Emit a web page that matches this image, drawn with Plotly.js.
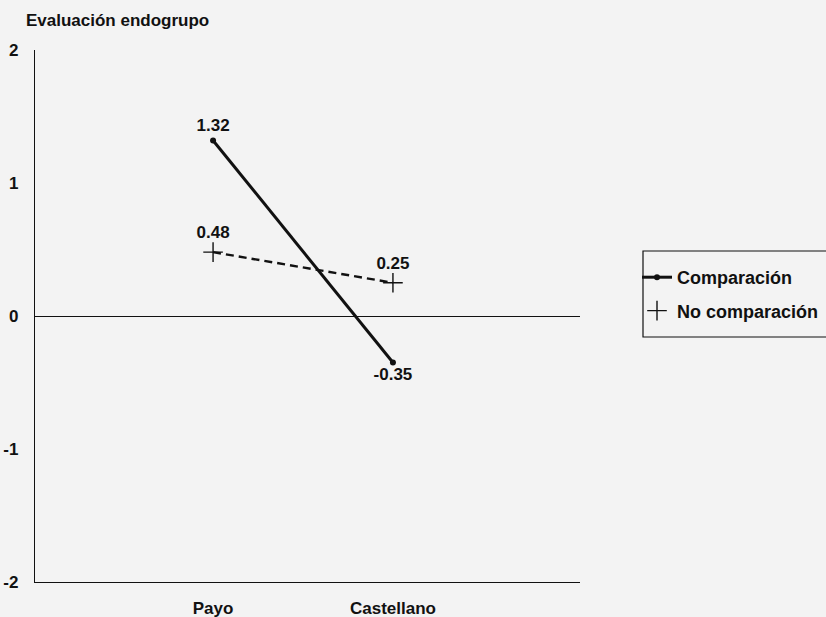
<!DOCTYPE html>
<html>
<head>
<meta charset="utf-8">
<script src="https://cdn.plot.ly/plotly-3.0.1.min.js"></script>
<style>html,body{margin:0;padding:0;background:#f3f3f3;}#chart{width:826px;height:617px;}</style>
</head>
<body>
<div id="chart"></div>
<script>
const categories = ["Payo", "Castellano"];
const comparacion = [1.32, -0.35];
const noComparacion = [0.48, 0.25];
const yTicks = [-2, -1, 0, 1, 2];
const yTickLabels = ["-2", "-1", "0", "1", "2"];

const FONT = "Liberation Sans, Arial, Helvetica, sans-serif";
const INK = "#111111";
const BG = "#f3f3f3";
const fmt = v => v.toFixed(2);

// plot area in pixels (used only to place the legend box)
const PL = 35, PR = 580, PT = 50, PB = 582;
const px = p => (p - PL) / (PR - PL);
const py = p => (PB - p) / (PB - PT);

const labelFont = {family: FONT, size: 17, color: INK, weight: "bold"};

const traces = [
  {
    x: categories, y: comparacion, name: "Comparación", legendgroup: "c",
    type: "scatter", mode: "lines+markers+text",
    line: {color: INK, width: 3},
    marker: {symbol: "circle", size: 6, color: INK},
    text: comparacion.map(fmt),
    textposition: ["top center", "bottom center"],
    textfont: labelFont,
    cliponaxis: false
  },
  {
    x: categories, y: noComparacion, name: "No comparación", legendgroup: "n",
    type: "scatter", mode: "lines", showlegend: false,
    line: {color: INK, width: 2.4, dash: "8px,5px"},
    cliponaxis: false
  },
  {
    x: categories, y: noComparacion, name: "No comparación", legendgroup: "n",
    type: "scatter", mode: "markers+text",
    marker: {symbol: "cross-thin", size: 14, color: INK, line: {color: INK, width: 1.4}},
    text: noComparacion.map(fmt),
    textposition: ["top center", "top center"],
    textfont: labelFont,
    cliponaxis: false
  }
];

const layout = {
  width: 826, height: 617,
  paper_bgcolor: BG, plot_bgcolor: BG,
  margin: {l: PL, r: 826 - PR, t: PT, b: 617 - PB, autoexpand: false},
  font: {family: FONT, color: INK, size: 17, weight: "bold"},
  title: {
    text: "Evaluación endogrupo",
    font: {family: FONT, size: 17, color: INK, weight: "bold"},
    xref: "container", yref: "container",
    x: 26 / 826, xanchor: "left",
    y: 1 - 20 / 617, yanchor: "middle"
  },
  xaxis: {
    type: "category", range: [-0.99, 2.04],
    showgrid: false, zeroline: false,
    showline: true, linecolor: INK, linewidth: 1.2,
    ticks: "", ticklabelstandoff: 10,
    tickfont: labelFont,
    fixedrange: true
  },
  yaxis: {
    range: [-2, 2], tickvals: yTicks, ticktext: yTickLabels,
    showgrid: false, zeroline: true, zerolinecolor: INK, zerolinewidth: 1,
    showline: true, linecolor: INK, linewidth: 1.2,
    ticks: "", ticklabelstandoff: 12,
    tickfont: labelFont,
    fixedrange: true
  },
  showlegend: true,
  legend: {
    x: px(637), xanchor: "left", y: py(259), yanchor: "top",
    bgcolor: "rgba(0,0,0,0)", borderwidth: 0,
    font: {family: FONT, size: 18, color: INK, weight: "bold"},
    itemwidth: 30, tracegroupgap: 7, traceorder: "grouped"
  },
  shapes: [
    {type: "rect", xref: "paper", yref: "paper",
     x0: px(643), x1: px(832), y0: py(337), y1: py(251),
     line: {color: INK, width: 1.2}, fillcolor: "rgba(0,0,0,0)", layer: "below"}
  ]
};

Plotly.newPlot("chart", traces, layout, {displayModeBar: false, staticPlot: true});
</script>
</body>
</html>
